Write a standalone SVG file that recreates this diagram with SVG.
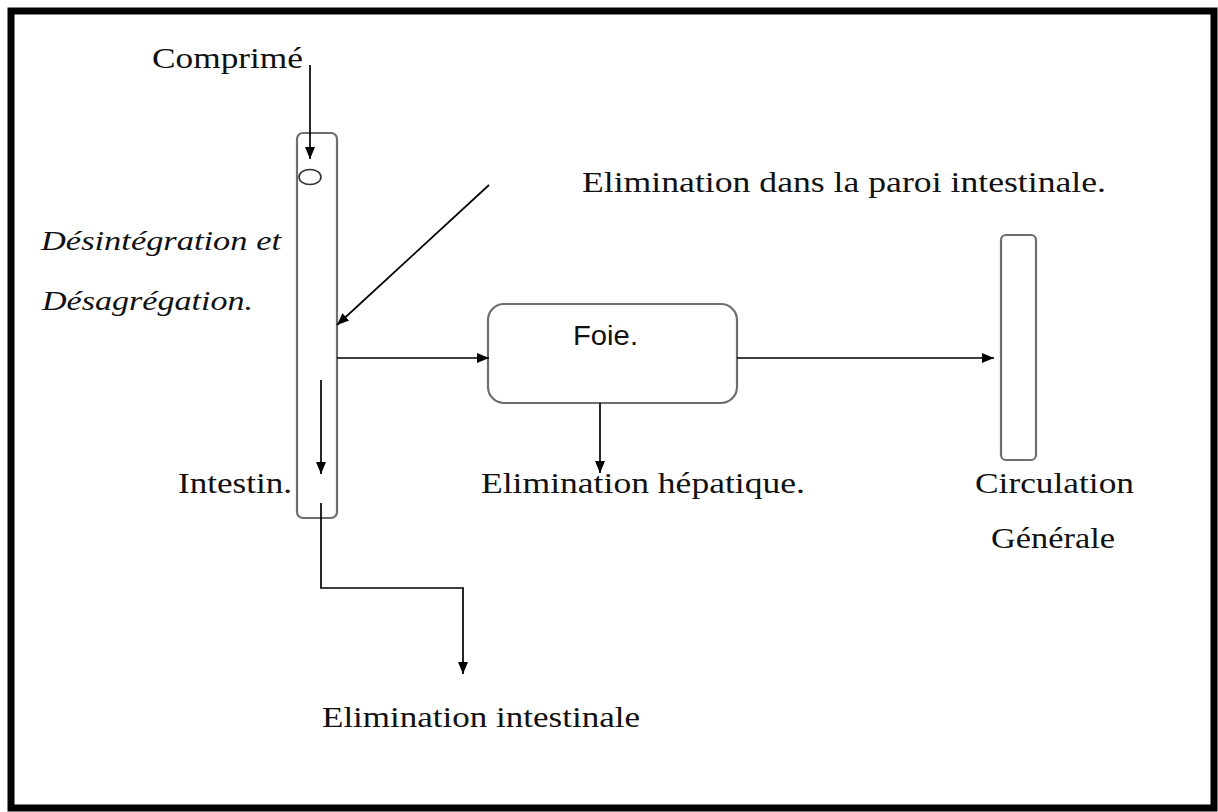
<svg xmlns="http://www.w3.org/2000/svg" width="1218" height="812" viewBox="0 0 1218 812">
<defs>
<marker id="ah" markerUnits="userSpaceOnUse" markerWidth="12" markerHeight="12" viewBox="0 0 12 12" refX="12" refY="6" orient="auto">
<path d="M0,1 L12,6 L0,11 Z" fill="#000"/>
</marker>
</defs>
<style>
.serif{font-family:"Liberation Serif","Times New Roman",serif;font-size:28.5px;fill:#111;}
.ital{font-family:"Liberation Serif","Times New Roman",serif;font-style:italic;font-size:28px;fill:#111;}
.sans{font-family:"Liberation Sans",Arial,sans-serif;font-size:28px;fill:#111;}
.box{fill:none;stroke:#6e6e6e;stroke-width:2.2;}
.ln{fill:none;stroke:#000;stroke-width:1.7;}
</style>
<rect x="0" y="0" width="1218" height="812" fill="#fff"/>
<rect x="11" y="11" width="1203" height="797" fill="none" stroke="#000" stroke-width="7"/>

<g id="comprime"><text class="serif" x="152" y="68" textLength="151" lengthAdjust="spacingAndGlyphs">Comprimé</text></g>

<g id="intestin">
<rect class="box" x="297" y="133" width="40" height="385" rx="6"/>
<ellipse cx="310" cy="177" rx="11" ry="7.5" fill="none" stroke="#333" stroke-width="1.6"/>
<text class="serif" x="178" y="493" textLength="114" lengthAdjust="spacingAndGlyphs">Intestin.</text>
</g>

<g id="desintegration">
<text class="ital" x="41" y="250" textLength="240" lengthAdjust="spacingAndGlyphs">Désintégration et</text>
<text class="ital" x="42" y="310" textLength="211" lengthAdjust="spacingAndGlyphs">Désagrégation.</text>
</g>

<g id="paroi"><text class="serif" x="582" y="192" textLength="524" lengthAdjust="spacingAndGlyphs">Elimination dans la paroi intestinale.</text></g>

<g id="foie">
<rect class="box" x="488" y="304" width="249" height="99" rx="16"/>
<text class="sans" x="573" y="345" textLength="65" lengthAdjust="spacingAndGlyphs">Foie.</text>
</g>

<g id="hepatique"><text class="serif" x="481" y="493" textLength="324" lengthAdjust="spacingAndGlyphs">Elimination hépatique.</text></g>

<g id="circulation">
<rect class="box" x="1001" y="235" width="35" height="225" rx="5"/>
<text class="serif" x="975" y="493" textLength="159" lengthAdjust="spacingAndGlyphs">Circulation</text>
<text class="serif" x="991" y="548" textLength="124" lengthAdjust="spacingAndGlyphs">Générale</text>
</g>

<g id="elim-intestinale"><text class="serif" x="322" y="727" textLength="318" lengthAdjust="spacingAndGlyphs">Elimination intestinale</text></g>

<g id="connectors">
<line class="ln" x1="310" y1="65" x2="310" y2="159" marker-end="url(#ah)"/>
<line class="ln" x1="489" y1="185" x2="337" y2="325" marker-end="url(#ah)"/>
<line class="ln" x1="337" y1="358" x2="489" y2="358" marker-end="url(#ah)"/>
<line class="ln" x1="321" y1="380" x2="321" y2="474" marker-end="url(#ah)"/>
<polyline class="ln" points="321,503 321,588 463,588 463,674" marker-end="url(#ah)"/>
<line class="ln" x1="600" y1="403" x2="600" y2="473" marker-end="url(#ah)"/>
<line class="ln" x1="737" y1="358" x2="994" y2="358" marker-end="url(#ah)"/>
</g>
</svg>
